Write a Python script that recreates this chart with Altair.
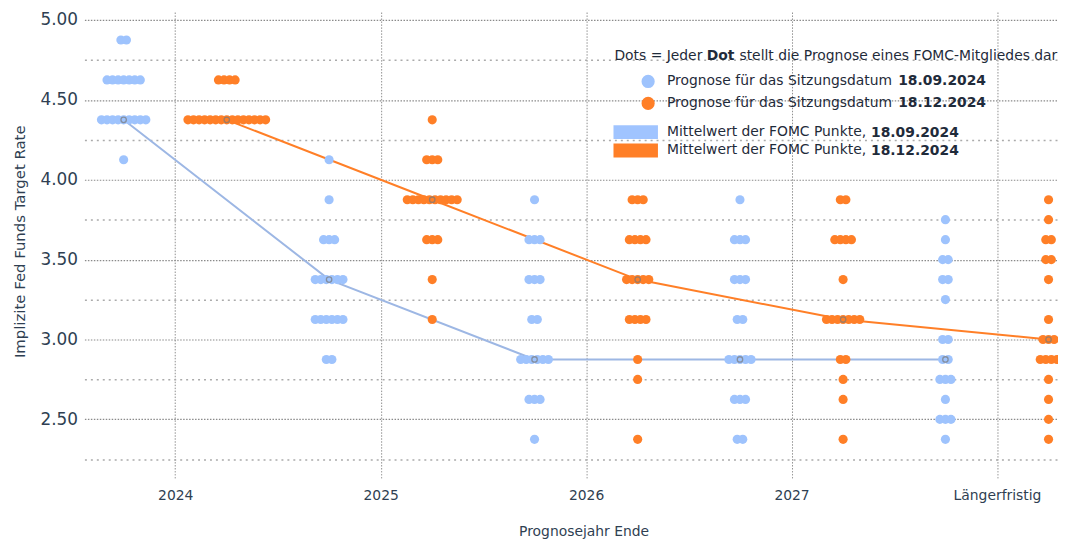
import json
import altair as alt
import pandas as pd

# ---------------- data ----------------
years = ["2024", "2025", "2026", "2027", "Längerfristig"]

sep_rates = [
    [4.875, 4.625, 4.375, 4.125],
    [4.125, 3.875, 3.625, 3.375, 3.125, 2.875],
    [3.875, 3.625, 3.375, 3.125, 2.875, 2.625, 2.375],
    [3.875, 3.625, 3.375, 3.125, 2.875, 2.625, 2.375],
    [3.75, 3.625, 3.5, 3.375, 3.25, 3.0, 2.875, 2.75, 2.625, 2.5, 2.375],
]
sep_counts = [
    [2, 7, 9, 1],
    [1, 1, 3, 6, 6, 2],
    [1, 3, 3, 2, 6, 3, 1],
    [1, 3, 3, 2, 5, 3, 2],
    [1, 1, 2, 2, 1, 2, 2, 3, 1, 3, 1],
]
dec_rates = [
    [4.625, 4.375],
    [4.375, 4.125, 3.875, 3.625, 3.375, 3.125],
    [3.875, 3.625, 3.375, 3.125, 2.875, 2.75, 2.375],
    [3.875, 3.625, 3.375, 3.125, 2.875, 2.75, 2.625, 2.375],
    [3.875, 3.75, 3.625, 3.5, 3.375, 3.125, 3.0, 2.875, 2.75, 2.625, 2.5, 2.375],
]
dec_counts = [
    [4, 15],
    [1, 3, 10, 3, 1, 1],
    [3, 4, 5, 4, 1, 1, 1],
    [2, 4, 1, 7, 2, 1, 1, 1],
    [1, 1, 2, 2, 1, 1, 3, 4, 1, 1, 1, 1],
]
sep_median = [4.375, 3.375, 2.875, 2.875, 2.875]
dec_median = [4.375, 3.875, 3.375, 3.125, 3.0]

y_ticks = [2.25, 2.5, 2.75, 3.0, 3.25, 3.5, 3.75, 4.0, 4.25, 4.5, 4.75, 5.0]

meeting_dates = ["18.09.2024", "18.12.2024"]
dot_text = "Prognose für das Sitzungsdatum"
line_text = "Mittelwert der FOMC Punkte,"
header_parts = ["Dots = Jeder", "Dot", "stellt die Prognose eines FOMC-Mitgliedes dar"]

dot_labels = [f"{dot_text} {d}" for d in meeting_dates]
line_labels = [f"{line_text} {d}" for d in meeting_dates]

# ---------------- styling ----------------
DOT_BLUE = "#9ec3fd"
DOT_ORANGE = "#ff7f27"
LINE_BLUE = "#9db7e4"
RECT_BLUE = "#a0c4ff"
TEXT = "#2f3f52"
LEG_TEXT = "#1f2b3a"
FONT = "DejaVu Sans"
LFS = 14  # legend font size

series_offset = [-0.251, 0.251]
dot_step = 0.027

# ---------------- build tables ----------------
dot_rows = []
for s, (rates_all, counts_all) in enumerate([(sep_rates, sep_counts), (dec_rates, dec_counts)]):
    for yi in range(len(years)):
        for r, c in zip(rates_all[yi], counts_all[yi]):
            for k in range(c):
                dot_rows.append({
                    "x": yi + series_offset[s] + (k - (c - 1) / 2) * dot_step,
                    "rate": r,
                    "Prognose": dot_labels[s],
                })
dots_df = pd.DataFrame(dot_rows)

med_rows = []
for s, med in enumerate([sep_median, dec_median]):
    for yi, v in enumerate(med):
        med_rows.append({"x": yi + series_offset[s], "rate": v, "Linie": line_labels[s]})
med_df = pd.DataFrame(med_rows)

# ---------------- scales / axes ----------------
x_enc = alt.X(
    "x:Q",
    scale=alt.Scale(domain=[-0.442, 4.297], nice=False, zero=False),
    axis=alt.Axis(
        values=list(range(len(years))),
        labelExpr=json.dumps(years) + "[datum.value]",
        grid=True, gridColor="#8f8f8f", gridDash=[1.5, 1.5], gridWidth=1,
        ticks=True, tickSize=8, tickColor="#9a9a9a", tickDash=[1.5, 1.5],
        domain=False,
        labelPadding=10, labelFontSize=14, labelColor=TEXT, labelFont=FONT,
        title="Prognosejahr Ende", titleFontSize=14, titleFontWeight="normal",
        titleColor=TEXT, titleFont=FONT,
        titleX=503, titleY=61, titleAlign="center", titleBaseline="middle",
    ),
)
y_enc = alt.Y(
    "rate:Q",
    scale=alt.Scale(domain=[2.18, 5.05], nice=False, zero=False),
    axis=alt.Axis(
        values=y_ticks,
        labelExpr="datum.value % 0.5 == 0 ? format(datum.value, '.2f') : ''",
        grid=True,
        gridColor=alt.condition("datum.value % 0.5 == 0", alt.value("#8a8a8a"), alt.value("#ababab")),
        gridDash=alt.condition("datum.value % 0.5 == 0", alt.value([1.5, 1.5]), alt.value([2, 4])),
        gridWidth=alt.condition("datum.value % 0.5 == 0", alt.value(1.2), alt.value(1.5)),
        ticks=False, domain=False,
        labelPadding=7, labelFontSize=17, labelColor=TEXT, labelFont=FONT,
        title="Implizite Fed Funds Target Rate", titleFontSize=15, titleFontWeight="normal",
        titleColor=TEXT, titleFont=FONT,
        titleX=-65, titleY=231, titleAngle=-90, titleAlign="center", titleBaseline="middle",
    ),
)

common_leg = dict(
    orient="none", padding=0, labelFontSize=LFS, labelColor=LEG_TEXT, labelFont=FONT,
    labelLimit=600, titleFontSize=LFS, titleColor=LEG_TEXT, titleFont=FONT, titleLimit=700,
)
RECT = "M-3.2,-1H3.2V1H-3.2Z"

# mean lines (no legend of their own)
lines = alt.Chart(med_df).mark_line(strokeWidth=2).encode(
    x=x_enc,
    y=y_enc,
    stroke=alt.Stroke(
        "Linie:N",
        scale=alt.Scale(domain=line_labels, range=[LINE_BLUE, DOT_ORANGE]),
        legend=None,
    ),
)

# FOMC dots  -> legend A (symbols + normal text)
dots = alt.Chart(dots_df).mark_circle(size=85, opacity=1, clip=True).encode(
    x=x_enc,
    y=y_enc,
    fill=alt.Fill(
        "Prognose:N",
        scale=alt.Scale(domain=dot_labels, range=[DOT_BLUE, DOT_ORANGE]),
        legend=alt.Legend(
            legendX=534, legendY=37, title=header_parts[0], titleFontWeight="normal",
            titlePadding=12, rowPadding=8,
            symbolType="circle", symbolSize=177, symbolStrokeWidth=0, symbolOpacity=1,
            symbolOffset=27, labelOffset=12,
            labelExpr=json.dumps(dot_text),
            **common_leg,
        ),
    ),
)

# legend B: bold dates of the dot rows, title "Dot" in bold
dot_dates = alt.Chart(dots_df).mark_point(filled=True, size=0).encode(
    x=x_enc,
    y=y_enc,
    fill=alt.Fill(
        "Prognose:N",
        scale=alt.Scale(domain=dot_labels, range=[DOT_BLUE, DOT_ORANGE]),
        legend=alt.Legend(
            legendX=627, legendY=37, title=header_parts[1], titleFontWeight="bold",
            titlePadding=12, rowPadding=8,
            symbolType="circle", symbolSize=177, symbolStrokeWidth=0, symbolOpacity=0,
            symbolOffset=0, labelOffset=179, labelFontWeight="bold",
            labelExpr="substring(datum.label, length(datum.label) - 10, length(datum.label))",
            **common_leg,
        ),
    ),
)

# legend C: rectangles + normal text for the mean lines
line_leg = alt.Chart(med_df).mark_point(filled=True, size=0).encode(
    x=x_enc,
    y=y_enc,
    fill=alt.Fill(
        "Linie:N",
        scale=alt.Scale(domain=line_labels, range=[RECT_BLUE, DOT_ORANGE]),
        legend=alt.Legend(
            legendX=533, legendY=114, title=None, rowPadding=4.5,
            symbolType=RECT, symbolSize=196, symbolStrokeWidth=0, symbolOpacity=1,
            symbolOffset=15.5, labelOffset=24.5,
            labelExpr=json.dumps(line_text),
            **common_leg,
        ),
    ),
)

# legend D: bold dates of the mean rows, title = rest of the header line
line_dates = alt.Chart(med_df).mark_point(filled=True, size=0).encode(
    x=x_enc,
    y=y_enc,
    fill=alt.Fill(
        "Linie:N",
        scale=alt.Scale(domain=line_labels, range=[RECT_BLUE, DOT_ORANGE]),
        legend=alt.Legend(
            legendX=660, legendY=37, title=header_parts[2], titleFontWeight="normal",
            titlePadding=63.5, rowPadding=4.5,
            symbolType=RECT, symbolSize=196, symbolStrokeWidth=0, symbolOpacity=0,
            symbolOffset=0, labelOffset=118.6, labelFontWeight="bold",
            labelExpr="substring(datum.label, length(datum.label) - 10, length(datum.label))",
            **common_leg,
        ),
    ),
)

medians = alt.Chart(med_df).mark_point(
    shape="circle", filled=False, size=30, stroke="#7a7a7a", strokeWidth=1.3
).encode(x=x_enc, y=y_enc)

chart = (
    alt.layer(lines, dots, medians, dot_dates, line_leg, line_dates)
    .resolve_scale(fill="independent")
    .properties(
        width=981,
        height=462,
        padding={"left": 77, "top": 2, "right": 0, "bottom": 70},
        autosize=alt.AutoSizeParams(type="none"),
        background="white",
    )
    .configure(font=FONT)
    .configure_view(stroke=None)
)

chart.save("out.html", embed_options={"renderer": "svg", "actions": False})
